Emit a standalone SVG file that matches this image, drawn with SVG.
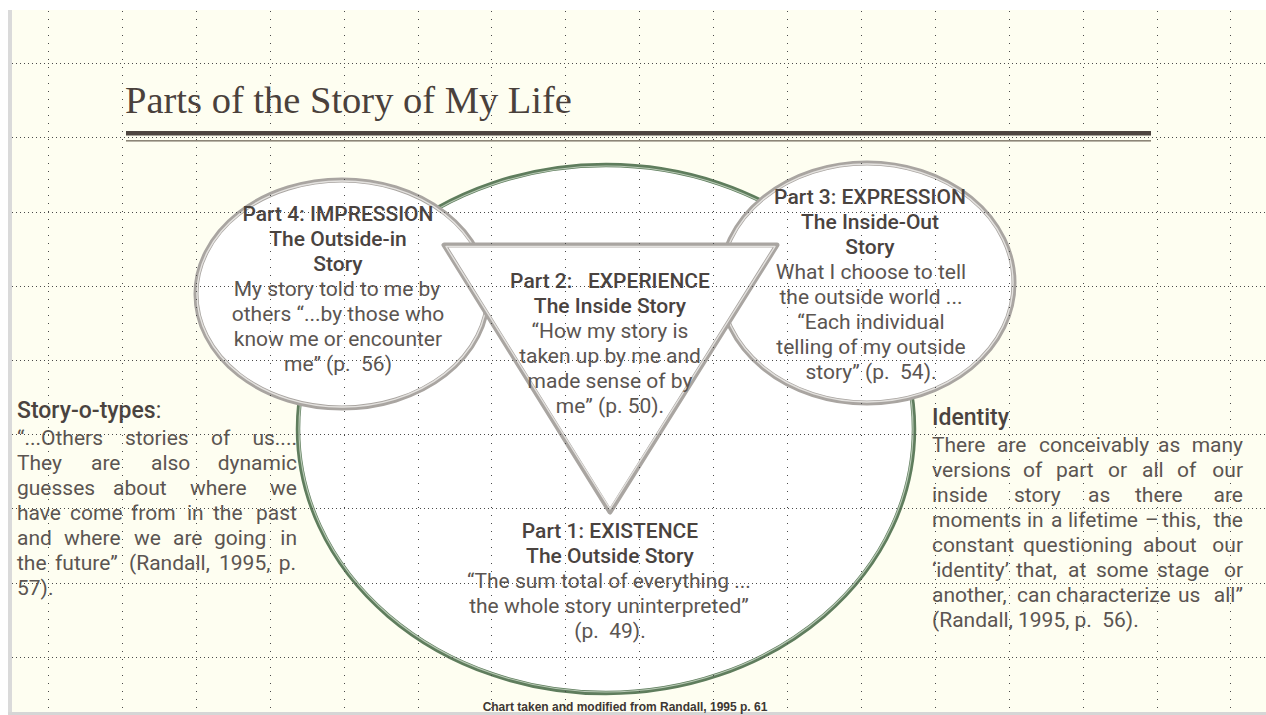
<svg xmlns="http://www.w3.org/2000/svg" width="1266" height="715" viewBox="0 0 1266 715">
<style>
.h{font-family:Roboto,"Open Sans",sans-serif;font-weight:500;font-size:21px;fill:#4a433f;text-anchor:middle}
.b{font-family:Roboto,"Open Sans",sans-serif;font-weight:400;font-size:21px;fill:#5b5551;text-anchor:middle}
.bl{font-family:Roboto,"Open Sans",sans-serif;font-weight:400;font-size:21px;fill:#5b5551}
.e{text-anchor:end}
.hs{font-family:Roboto,"Open Sans",sans-serif;font-weight:500;font-size:23px;fill:#4a433f}
.gout{fill:#fff;stroke:#a9a5a1;stroke-width:5}
.gin{fill:none;stroke:#e4e2df;stroke-width:1.4}
.grn{fill:#fff;stroke:#5f7d5d;stroke-width:4.5}
.grnin{fill:none;stroke:#b9cab6;stroke-width:1.2}
.gv{fill:none;stroke:#4a4a4a;stroke-width:1;stroke-dasharray:1 7}
.gh{fill:none;stroke:#4a4a4a;stroke-width:1;stroke-dasharray:1 3}
</style>
<rect x="0" y="0" width="1266" height="715" fill="#ffffff"/>
<rect x="8" y="10" width="1258" height="703" fill="#fefef1"/>
<rect x="8" y="10" width="4" height="703" fill="#dadada"/>
<rect x="8" y="712" width="1258" height="3" fill="#d6d6d6"/>

<g id="title">
<text x="125" y="113" font-family="'Liberation Serif',serif" font-size="38.5" fill="#4a413c">Parts of the Story of My Life</text>
<rect x="126" y="131" width="1025" height="4.5" fill="#4e4540"/>
<rect x="126" y="140" width="1025" height="1.6" fill="#8c8577"/>
</g>

<g id="connectors"></g>

<g id="part1">
<ellipse class="grn" cx="606" cy="429" rx="308" ry="264"/>
<ellipse class="grnin" cx="606" cy="429" rx="307" ry="263"/>
<text class="h" x="610" y="538">Part 1: EXISTENCE</text>
<text class="h" x="610" y="563">The Outside Story</text>
<text class="b" x="609" y="588">“The sum total of everything ...</text>
<text class="b" x="609" y="613">the whole story uninterpreted”</text>
<text class="b" x="610" y="638">(p.&#160; 49).</text>
</g>

<g id="part4">
<ellipse class="gout" cx="342" cy="294" rx="146" ry="114"/>
<ellipse class="gin" cx="342" cy="294" rx="145" ry="113"/>
<text class="h" x="338" y="221">Part 4: IMPRESSION</text>
<text class="h" x="338" y="246">The Outside-in</text>
<text class="h" x="338" y="271">Story</text>
<text class="b" x="337" y="296">My story told to me by</text>
<text class="b" x="338" y="321">others “...by those who</text>
<text class="b" x="338" y="346">know me or encounter</text>
<text class="b" x="338" y="371">me” (p.&#160; 56)</text>
</g>

<g id="part3">
<ellipse class="gout" cx="867" cy="283" rx="147" ry="120"/>
<ellipse class="gin" cx="867" cy="283" rx="146" ry="119"/>
<text class="h" x="870" y="204">Part 3: EXPRESSION</text>
<text class="h" x="870" y="229">The Inside-Out</text>
<text class="h" x="870" y="254">Story</text>
<text class="b" x="871" y="279">What I choose to tell</text>
<text class="b" x="871" y="304">the outside world ...</text>
<text class="b" x="871" y="329">“Each individual</text>
<text class="b" x="871" y="354">telling of my outside</text>
<text class="b" x="871" y="379">story” (p.&#160; 54).</text>
</g>

<g id="part2">
<polygon class="gout" points="444,245 777,245 610,512" stroke-linejoin="round"/>
<polygon class="gin" points="446,246.5 775,246.5 610,509" stroke-linejoin="round"/>
<text class="h" x="610" y="288">Part 2:&#160;&#160; EXPERIENCE</text>
<text class="h" x="610" y="313">The Inside Story</text>
<text class="b" x="610" y="338">“How my story is</text>
<text class="b" x="610" y="363">taken up by me and</text>
<text class="b" x="610" y="388">made sense of by</text>
<text class="b" x="610" y="413">me” (p. 50).</text>
</g>

<g id="storyotypes">
<text class="hs" x="17" y="418">Story-o-types<tspan font-weight="400">:</tspan></text>
<text class="bl" y="445"><tspan x="17">“...Others</tspan><tspan x="125">stories</tspan><tspan x="211">of</tspan><tspan class="e" x="297">us....</tspan></text>
<text class="bl" y="470"><tspan x="17">They</tspan><tspan x="91">are</tspan><tspan x="151">also</tspan><tspan class="e" x="297">dynamic</tspan></text>
<text class="bl" y="495"><tspan x="17">guesses</tspan><tspan x="113">about</tspan><tspan x="190">where</tspan><tspan class="e" x="297">we</tspan></text>
<text class="bl" y="520"><tspan x="17">have</tspan><tspan x="70">come</tspan><tspan x="131">from</tspan><tspan x="187">in</tspan><tspan x="213">the</tspan><tspan class="e" x="297">past</tspan></text>
<text class="bl" y="545"><tspan x="17">and</tspan><tspan x="64">where</tspan><tspan x="134">we</tspan><tspan x="173">are</tspan><tspan x="214">going</tspan><tspan class="e" x="297">in</tspan></text>
<text class="bl" y="570"><tspan x="17">the</tspan><tspan x="55">future”</tspan><tspan x="129">(Randall,</tspan><tspan x="219">1995,</tspan><tspan class="e" x="296">p.</tspan></text>
<text class="bl" x="17" y="595">57).</text>
</g>

<g id="identity">
<text class="hs" x="932" y="425">Identity</text>
<text class="bl" y="452"><tspan x="932">There</tspan><tspan x="997">are</tspan><tspan x="1039">conceivably</tspan><tspan x="1158">as</tspan><tspan class="e" x="1243">many</tspan></text>
<text class="bl" y="477"><tspan x="932">versions</tspan><tspan x="1023">of</tspan><tspan x="1056">part</tspan><tspan x="1108">or</tspan><tspan x="1142">all</tspan><tspan x="1177">of</tspan><tspan class="e" x="1243">our</tspan></text>
<text class="bl" y="502"><tspan x="932">inside</tspan><tspan x="1014">story</tspan><tspan x="1088">as</tspan><tspan x="1135">there</tspan><tspan class="e" x="1243">are</tspan></text>
<text class="bl" y="527"><tspan x="932">moments</tspan><tspan x="1027">in</tspan><tspan x="1051">a</tspan><tspan x="1068">lifetime</tspan><tspan x="1145">–</tspan><tspan x="1162">this,</tspan><tspan class="e" x="1243">the</tspan></text>
<text class="bl" y="552"><tspan x="932">constant</tspan><tspan x="1023">questioning</tspan><tspan x="1143">about</tspan><tspan class="e" x="1243">our</tspan></text>
<text class="bl" y="577"><tspan x="932">‘identity’</tspan><tspan x="1016">that,</tspan><tspan x="1068">at</tspan><tspan x="1096">some</tspan><tspan x="1157">stage</tspan><tspan class="e" x="1243">or</tspan></text>
<text class="bl" y="602"><tspan x="932">another,</tspan><tspan x="1017">can</tspan><tspan x="1056">characterize</tspan><tspan x="1178">us</tspan><tspan class="e" x="1243">all”</tspan></text>
<text class="bl" x="932" y="627">(Randall, 1995, p.&#160; 56).</text>
</g>

<g id="caption">
<text x="625" y="711" text-anchor="middle" font-family="'Liberation Sans',Arial,sans-serif" font-weight="700" font-size="12" fill="#3d3733">Chart taken and modified from Randall, 1995 p. 61</text>
</g>

<g id="grid">
<path class="gv" d="M48.5 11V712M122.5 11V712M196.5 11V712M270.5 11V712M344.5 11V712M418.5 11V712M491.5 11V712M565.5 11V712M639.5 11V712M713.5 11V712M787.5 11V712M861.5 11V712M935.5 11V712M1009.5 11V712M1083.5 11V712M1157.5 11V712M1230.5 11V712"/>
<path class="gh" d="M12 63.5H1266M12 137.5H1266M12 212.5H1266M12 286.5H1266M12 360.5H1266M12 434.5H1266M12 508.5H1266M12 583.5H1266M12 657.5H1266"/>
</g>
</svg>
